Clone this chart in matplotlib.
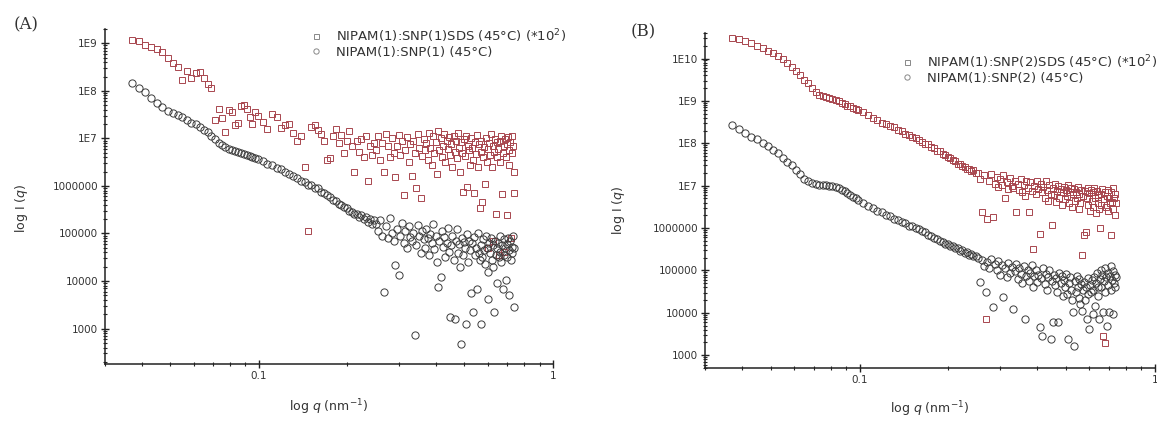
import numpy as np
import matplotlib.pyplot as plt
from matplotlib.lines import Line2D
from matplotlib.ticker import FixedLocator, FuncFormatter, NullFormatter

plt.rcParams['font.family'] = 'DejaVu Sans'

#scattering vector q (nm^-1), shared by all four curves
q = [0.037, 0.039, 0.041, 0.043, 0.045, 0.047, 0.049, 0.051,
     0.053, 0.055, 0.057, 0.059, 0.061, 0.063, 0.065, 0.067,
     0.069, 0.071, 0.073, 0.075, 0.077, 0.079, 0.081, 0.083,
     0.085, 0.087, 0.089, 0.091, 0.093, 0.095, 0.097, 0.099,
     0.103, 0.107, 0.111, 0.115, 0.119, 0.123, 0.127, 0.131, 0.135, 0.139,
     0.143, 0.147, 0.151, 0.155, 0.159, 0.163, 0.167, 0.171, 0.175, 0.179,
     0.183, 0.187, 0.191, 0.195, 0.199, 0.203, 0.207, 0.211, 0.215, 0.219,
     0.223, 0.227, 0.231, 0.235, 0.239, 0.243, 0.247,
     0.251, 0.255, 0.259, 0.263, 0.267, 0.271, 0.275, 0.279, 0.283, 0.287,
     0.291, 0.295, 0.299, 0.303, 0.307, 0.311, 0.315, 0.319, 0.323, 0.327,
     0.331, 0.335, 0.339, 0.343, 0.347, 0.351, 0.355, 0.359, 0.363, 0.367,
     0.371, 0.375, 0.379, 0.383, 0.387, 0.391, 0.395, 0.399, 0.403, 0.407,
     0.411, 0.415, 0.419, 0.423, 0.427, 0.431, 0.435, 0.439, 0.443, 0.447,
     0.451, 0.455, 0.459, 0.463, 0.467, 0.471, 0.475, 0.479, 0.483, 0.487,
     0.491, 0.495, 0.499, 0.503, 0.507, 0.511, 0.515, 0.519, 0.523, 0.527,
     0.531, 0.535, 0.539, 0.543, 0.547, 0.551, 0.555, 0.559, 0.563, 0.567,
     0.571, 0.575, 0.579, 0.583, 0.587, 0.591, 0.595, 0.599, 0.603, 0.607,
     0.611, 0.615, 0.619, 0.623, 0.627, 0.631, 0.635, 0.639, 0.643, 0.647,
     0.651, 0.655, 0.659, 0.663, 0.667, 0.671, 0.675, 0.679, 0.683, 0.687,
     0.691, 0.695, 0.699, 0.703, 0.707, 0.711, 0.715, 0.719, 0.723, 0.727,
     0.731, 0.735, 0.739]

#log10 of intensity, panel A: SNP(1) with SDS (x100) and without
logI_A_sds = [9.07, 9.04, 8.97, 8.93, 8.88, 8.82, 8.70, 8.58,
              8.50, 8.22, 8.42, 8.27, 8.38, 8.40, 8.26, 8.15,
              8.05, 7.38, 7.62, 7.42, 7.14, 7.60, 7.55, 7.28,
              7.32, 7.68, 7.70, 7.62, 7.45, 7.30, 7.55, 7.48,
              7.35, 7.20, 7.52, 7.45, 7.22, 7.28, 7.30, 7.12, 6.95, 7.05,
              6.40, 5.05, 7.25, 7.28, 7.18, 7.10, 6.95, 6.55, 6.58, 7.05,
              7.20, 6.90, 7.08, 6.70, 6.95, 7.15, 6.85, 6.30, 6.95, 6.72,
              6.98, 6.60, 7.05, 6.10, 6.85, 6.65, 6.90,
              6.75, 7.05, 6.55, 6.90, 6.30, 7.10, 6.85, 6.60, 7.00, 6.70,
              6.18, 6.85, 7.08, 6.65, 6.95, 5.80, 6.75, 7.02, 6.50, 6.88,
              6.20, 6.95, 6.70, 5.95, 7.10, 6.80, 5.74, 6.62, 6.98, 6.75,
              6.90, 6.55, 7.12, 6.80, 6.45, 7.05, 6.70, 6.92, 6.25, 7.15,
              6.75, 7.00, 6.60, 6.85, 7.10, 6.50, 6.95, 6.78, 7.02, 6.65,
              6.88, 6.40, 7.05, 6.72, 6.95, 6.58, 7.12, 6.80, 6.30, 6.92,
              6.70, 5.88, 6.98, 6.62, 7.05, 5.98, 6.85, 6.75, 6.45, 7.00,
              6.80, 6.55, 5.85, 6.92, 6.68, 7.08, 6.40, 6.88, 5.53, 6.72,
              6.95, 5.67, 6.60, 6.82, 6.05, 7.00, 6.50, 6.78, 4.70, 6.90,
              6.65, 7.10, 6.40, 4.85, 6.85, 6.72, 6.98, 5.42, 6.60, 6.92,
              6.78, 4.55, 6.95, 6.50, 7.05, 5.84, 6.70, 6.85, 4.62, 6.98,
              6.60, 6.88, 5.38, 7.02, 6.75, 6.45, 6.92, 4.90, 6.70, 7.05,
              6.85, 6.30, 5.85]

logI_A = [8.16, 8.07, 7.97, 7.86, 7.75, 7.67, 7.57, 7.53,
          7.49, 7.44, 7.39, 7.33, 7.30, 7.24, 7.18, 7.13,
          7.06, 6.99, 6.91, 6.86, 6.82, 6.78, 6.75, 6.73,
          6.71, 6.69, 6.67, 6.65, 6.63, 6.61, 6.59, 6.56,
          6.52, 6.47, 6.44, 6.38, 6.35, 6.29, 6.26, 6.20, 6.16, 6.10,
          6.08, 6.03, 6.01, 5.96, 5.95, 5.88, 5.86, 5.80, 5.77, 5.71,
          5.69, 5.62, 5.60, 5.55, 5.53, 5.47, 5.46, 5.40, 5.42, 5.35,
          5.38, 5.30, 5.34, 5.25, 5.30, 5.20, 5.28,
          5.20, 5.05, 5.28, 4.95, 3.77, 5.15, 4.90, 5.32, 5.00, 4.85,
          4.33, 5.10, 4.12, 4.95, 5.22, 4.80, 5.05, 4.70, 5.15, 4.92,
          4.85, 5.00, 2.87, 4.75, 5.18, 4.95, 4.60, 5.05, 4.88, 4.70,
          5.10, 4.90, 4.55, 4.98, 4.80, 5.20, 4.68, 4.95, 4.40, 3.88,
          4.85, 4.09, 5.05, 4.72, 4.92, 4.50, 4.80, 5.12, 4.62, 3.25,
          4.75, 4.95, 4.45, 3.21, 4.85, 5.10, 4.60, 4.78, 4.30, 2.67,
          4.90, 4.55, 4.82, 4.70, 3.10, 4.98, 4.40, 4.85, 4.65, 3.74,
          4.80, 3.35, 4.92, 4.55, 4.70, 3.84, 5.02, 4.60, 4.45, 3.10,
          4.75, 4.50, 4.88, 4.65, 4.35, 4.95, 4.70, 4.20, 3.63, 4.80,
          4.60, 4.90, 4.45, 4.75, 4.30, 3.35, 4.85, 4.55, 4.70, 3.95,
          4.80, 4.50, 4.95, 4.62, 4.40, 4.75, 3.84, 4.88, 4.55, 4.70,
          4.02, 4.78, 4.50, 4.90, 4.65, 3.70, 4.85, 4.45, 4.72, 4.60,
          4.95, 3.46, 4.70]

#log10 of intensity, panel B: SNP(2) with SDS (x100) and without
logI_B_sds = [10.49, 10.46, 10.41, 10.36, 10.30, 10.24, 10.18, 10.12,
              10.07, 10.00, 9.90, 9.80, 9.70, 9.62, 9.50, 9.42,
              9.30, 9.20, 9.14, 9.11, 9.09, 9.07, 9.05, 9.03,
              8.99, 8.96, 8.93, 8.89, 8.87, 8.84, 8.81, 8.79,
              8.74, 8.67, 8.60, 8.56, 8.49, 8.46, 8.40, 8.38, 8.32, 8.29,
              8.23, 8.19, 8.14, 8.13, 8.07, 8.04, 7.99, 7.98, 7.92, 7.90,
              7.82, 7.81, 7.75, 7.72, 7.67, 7.65, 7.60, 7.58, 7.52, 7.50,
              7.46, 7.45, 7.40, 7.39, 7.34, 7.36, 7.29,
              7.30, 7.15, 6.38, 7.25, 3.85, 6.22, 7.10, 7.28, 6.26, 7.05,
              7.20, 6.98, 7.15, 7.02, 7.25, 6.70, 7.08, 6.92, 7.18, 7.00,
              6.95, 7.12, 6.38, 7.05, 6.90, 7.15, 6.85, 7.02, 6.75, 7.10,
              6.95, 6.38, 7.08, 6.88, 5.51, 7.00, 6.80, 7.12, 6.92, 5.87,
              7.05, 6.85, 6.98, 6.72, 7.10, 6.90, 6.65, 7.02, 6.80, 6.07,
              6.95, 6.78, 7.05, 6.62, 6.88, 7.00, 6.70, 6.92, 6.55, 6.85,
              6.98, 6.68, 6.90, 6.75, 7.02, 6.60, 6.85, 6.95, 6.50, 6.80,
              6.92, 6.65, 6.85, 6.72, 6.98, 6.45, 6.80, 6.58, 6.90, 5.36,
              6.75, 5.83, 6.88, 5.91, 6.70, 6.95, 6.55, 6.82, 6.40, 6.90,
              6.65, 6.85, 6.50, 6.95, 6.72, 6.35, 6.88, 6.60, 6.78, 6.45,
              5.99, 6.80, 6.55, 6.92, 3.46, 6.68, 3.30, 6.85, 6.50, 6.75,
              6.90, 6.40, 6.70, 6.58, 6.85, 5.83, 6.62, 6.95, 6.45, 6.72,
              6.80, 6.30, 6.60]

logI_B = [8.44, 8.33, 8.25, 8.15, 8.09, 8.00, 7.93, 7.84,
          7.77, 7.66, 7.57, 7.48, 7.38, 7.27, 7.16, 7.11,
          7.07, 7.05, 7.02, 7.01, 7.01, 7.00, 6.99, 6.97,
          6.94, 6.91, 6.87, 6.82, 6.78, 6.74, 6.70, 6.66,
          6.60, 6.53, 6.47, 6.40, 6.37, 6.30, 6.28, 6.22, 6.20, 6.14,
          6.12, 6.06, 6.05, 5.99, 5.98, 5.92, 5.91, 5.84, 5.81, 5.76,
          5.74, 5.69, 5.68, 5.63, 5.63, 5.58, 5.58, 5.52, 5.53, 5.47,
          5.48, 5.42, 5.44, 5.37, 5.39, 5.33, 5.34,
          5.30, 4.72, 5.25, 5.10, 4.49, 5.20, 5.05, 5.28, 4.13, 5.15,
          5.00, 5.22, 4.90, 5.12, 4.37, 5.05, 4.85, 5.18, 4.95, 5.08,
          4.09, 4.98, 5.15, 4.80, 5.05, 4.92, 4.70, 5.10, 3.85, 4.88,
          5.02, 4.75, 4.95, 5.12, 4.60, 4.88, 5.00, 4.72, 4.90, 3.66,
          4.82, 3.46, 5.05, 4.68, 4.92, 4.55, 4.85, 5.00, 3.38, 4.75,
          3.78, 4.90, 4.65, 4.82, 4.50, 3.78, 4.95, 4.70, 4.88, 4.40,
          4.78, 4.60, 4.92, 4.45, 3.38, 4.70, 4.85, 4.55, 4.30, 4.01,
          3.22, 4.75, 4.50, 4.88, 4.62, 4.35, 4.80, 4.20, 4.68, 4.05,
          4.55, 4.72, 4.30, 4.60, 3.85, 4.82, 4.45, 3.62, 4.65, 4.50,
          4.78, 3.97, 4.55, 4.85, 4.17, 4.70, 4.95, 4.40, 4.62, 3.85,
          4.80, 5.00, 4.60, 4.90, 4.01, 4.75, 5.05, 4.50, 4.85, 3.70,
          4.95, 4.65, 4.01, 4.88, 5.10, 4.55, 4.78, 4.98, 3.97, 4.70,
          4.90, 4.60, 4.85]

labels_A = ['NIPAM(1):SNP(1)SDS (45°C) (*10$^2$)', 'NIPAM(1):SNP(1) (45°C)']
labels_B = ['NIPAM(1):SNP(2)SDS (45°C) (*10$^2$)', 'NIPAM(1):SNP(2) (45°C)']

sq_col = '#a8464e'
ci_col = '#3c3c3c'
txt_col = '#333333'

W, H = 1157., 423.

def ytick_text(v, pos):
    #Origin style: big decades as 1E9, small ones written out
    e = int(round(np.log10(v)))
    if e >= 7:
        return '1E%d' % e
    return '%d' % (10 ** e)

def setup_axes(ax, ylim, ydec):
    ax.set_xscale('log')
    ax.set_yscale('log')
    ax.set_xlim(0.03, 1.0)
    ax.set_ylim(*ylim)
    ax.spines['top'].set_visible(False)
    ax.spines['right'].set_visible(False)
    for s in ('left', 'bottom'):
        ax.spines[s].set_linewidth(1.1)
        ax.spines[s].set_color('#222222')
    ax.xaxis.set_major_locator(FixedLocator([0.1, 1.0]))
    ax.xaxis.set_minor_locator(FixedLocator([0.03, 0.04, 0.05, 0.06, 0.07, 0.08, 0.09,
                                             0.2, 0.3, 0.4, 0.5, 0.6, 0.7, 0.8, 0.9]))
    ax.xaxis.set_major_formatter(FuncFormatter(lambda v, p: '%g' % v))
    ax.xaxis.set_minor_formatter(NullFormatter())
    ax.yaxis.set_major_locator(FixedLocator([10.0 ** e for e in ydec]))
    minors = [m * 10.0 ** e for e in range(ydec[0] - 1, ydec[-1] + 1) for m in range(2, 10)]
    ax.yaxis.set_minor_locator(FixedLocator(minors))
    ax.yaxis.set_major_formatter(FuncFormatter(ytick_text))
    ax.yaxis.set_minor_formatter(NullFormatter())
    ax.tick_params(which='major', direction='inout', length=6, width=1.0,
                   colors='#222222', labelcolor=txt_col, labelsize=7.5, pad=2)
    ax.tick_params(which='minor', direction='inout', length=3.5, width=0.8, colors='#222222')

def draw_panel(ax, y_sds, y_plain, labels, ylim, ydec, leg_xy):
    ax.plot(q, 10 ** np.array(y_sds), ls='none', marker='s', ms=4.6, mfc='none',
            mec=sq_col, mew=0.7)
    ax.plot(q, 10 ** np.array(y_plain), ls='none', marker='o', ms=5.2, mfc='none',
            mec=ci_col, mew=0.7)
    setup_axes(ax, ylim, ydec)
    ax.set_xlabel(r'log $q$ (nm$^{-1}$)', fontsize=9, color=txt_col)
    ax.set_ylabel(r'log I ($q$)', fontsize=9, color=txt_col)
    #legend markers drawn small and grey
    h = [Line2D([], [], ls='none', marker='s', ms=3.6, mfc='none', mec='#888888', mew=0.7),
         Line2D([], [], ls='none', marker='o', ms=3.8, mfc='none', mec='#888888', mew=0.7)]
    leg = ax.legend(h, labels, loc='upper left', bbox_to_anchor=leg_xy,
                    bbox_transform=ax.figure.transFigure, frameon=False, fontsize=9.5,
                    handlelength=0.9, handletextpad=1.1, labelspacing=0.08,
                    borderpad=0, borderaxespad=0)
    for t in leg.get_texts():
        t.set_color(txt_col)

fig = plt.figure(figsize=(W / 100, H / 100), dpi=100)

#panel A
axA = fig.add_axes([105 / W, (H - 364) / H, 448 / W, 335 / H])
draw_panel(axA, logI_A_sds, logI_A, labels_A, (180, 2e9), list(range(3, 10)),
           (310 / W, 1 - 27 / H))
axA.yaxis.set_label_coords(-0.167, 0.466)
axA.xaxis.set_label_coords(0.498, -0.1)

#panel B
axB = fig.add_axes([705 / W, (H - 368) / H, 450 / W, 335 / H])
draw_panel(axB, logI_B_sds, logI_B, labels_B, (500, 4e10), list(range(3, 11)),
           (901 / W, 1 - 53 / H))
axB.yaxis.set_label_coords(-0.173, 0.472)
axB.xaxis.set_label_coords(0.5, -0.095)

#panel letters
fig.text(26 / W, 1 - 25 / H, '(A)', ha='center', va='center', fontsize=12,
         family='DejaVu Serif', color=txt_col)
fig.text(643 / W, 1 - 32 / H, '(B)', ha='center', va='center', fontsize=12,
         family='DejaVu Serif', color=txt_col)

fig.savefig('out.png', dpi=100)
